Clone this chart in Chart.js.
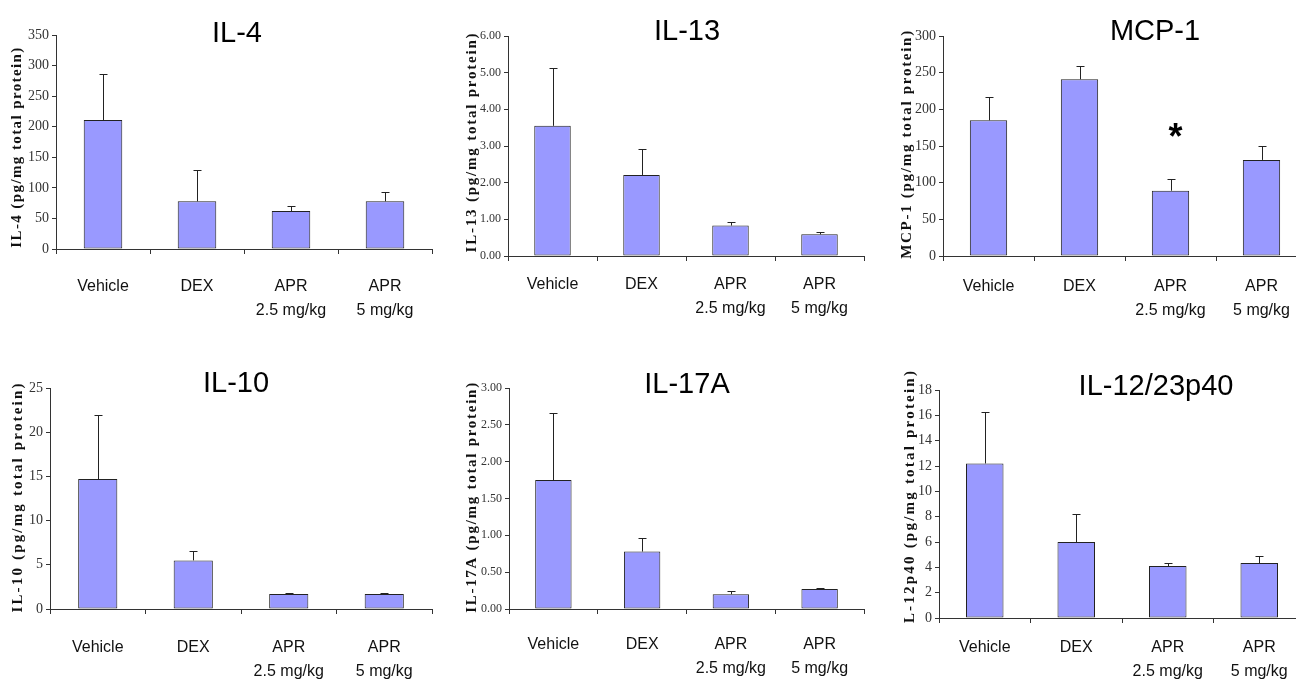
<!DOCTYPE html>
<html>
<head>
<meta charset="utf-8">
<title>Cytokines</title>
<script src="https://cdn.jsdelivr.net/npm/chart.js@4.4.1/dist/chart.umd.min.js"></script>
<style>
  html, body { margin: 0; padding: 0; background: #fff; overflow: hidden; }
  body { width: 1296px; height: 681px; position: relative; }
  canvas { position: absolute; }
</style>
</head>
<body>
<script>
// groups on the x axis
const categories = ['Vehicle', 'DEX', ['APR', '2.5 mg/kg'], ['APR', '5 mg/kg']];

// IL-4
const il4Mean = [211, 78, 62, 78];
const il4Upper = [287, 130, 70, 94];
const il4Ticks = [0, 50, 100, 150, 200, 250, 300, 350];

// IL-13
const il13Mean = [3.55, 2.21, 0.83, 0.59];
const il13Upper = [5.12, 2.91, 0.94, 0.65];
const il13Ticks = [0, 1, 2, 3, 4, 5, 6];

// MCP-1
const mcp1Mean = [185, 241, 89, 131];
const mcp1Upper = [217, 259, 105, 150];
const mcp1Ticks = [0, 50, 100, 150, 200, 250, 300];
const mcp1Sig = ['', '', '*', ''];

// IL-10
const il10Mean = [14.7, 5.5, 1.7, 1.7];
const il10Upper = [22.0, 6.6, 1.8, 1.8];
const il10Ticks = [0, 5, 10, 15, 20, 25];

// IL-17A
const il17Mean = [1.75, 0.78, 0.20, 0.27];
const il17Upper = [2.66, 0.96, 0.25, 0.29];
const il17Ticks = [0, 0.5, 1, 1.5, 2, 2.5, 3];

// IL-12/23p40
const il12Mean = [12.2, 6.0, 4.1, 4.34];
const il12Upper = [16.3, 8.2, 4.37, 4.9];
const il12Ticks = [0, 2, 4, 6, 8, 10, 12, 14, 16, 18];

const noSig = ['', '', '', ''];

// page layout of each panel: area = chart area [left, top, right, bottom]
const panels = [
    { title: 'IL-4', yTitle: 'IL-4 (pg/mg total protein)', mean: il4Mean, upper: il4Upper, ticks: il4Ticks, decimals: 0, sig: noSig,
      area: [56, 35, 432, 249], titlePos: [237, 42], yTitlePos: [17, 147, 200], labelPad: 21 },
    { title: 'IL-13', yTitle: 'IL-13 (pg/mg total protein)', mean: il13Mean, upper: il13Upper, ticks: il13Ticks, decimals: 2, sig: noSig,
      area: [508, 36, 864, 256], titlePos: [687, 40], yTitlePos: [472, 142, 219], labelPad: 12 },
    { title: 'MCP-1', yTitle: 'MCP-1 (pg/mg total protein)', mean: mcp1Mean, upper: mcp1Upper, ticks: mcp1Ticks, decimals: 0, sig: mcp1Sig,
      area: [943, 36, 1307, 256], titlePos: [1155, 40], yTitlePos: [907, 144, 228], labelPad: 14 },
    { title: 'IL-10', yTitle: 'IL-10 (pg/mg total protein)', mean: il10Mean, upper: il10Upper, ticks: il10Ticks, decimals: 0, sig: noSig,
      area: [50, 388, 432, 609], titlePos: [236, 392], yTitlePos: [18, 497, 229], labelPad: 22 },
    { title: 'IL-17A', yTitle: 'IL-17A (pg/mg total protein)', mean: il17Mean, upper: il17Upper, ticks: il17Ticks, decimals: 2, sig: noSig,
      area: [509, 388, 864, 609], titlePos: [687, 393], yTitlePos: [472, 497, 230], labelPad: 19 },
    { title: 'IL-12/23p40', yTitle: 'L-12p40 (pg/mg total protein)', mean: il12Mean, upper: il12Upper, ticks: il12Ticks, decimals: 0, sig: noSig,
      area: [939, 390, 1305, 618], titlePos: [1156, 395], yTitlePos: [910, 496, 252], labelPad: 13 }
];

const padTop = 30, axisW = 60, axisH = 80, padRight = 4;

// upper error bars + significance mark
const errorBars = {
    id: 'errorBars',
    afterDatasetsDraw(chart, args, opts) {
        const { ctx } = chart;
        const y = chart.scales.y;
        const meta = chart.getDatasetMeta(0);
        ctx.save();
        ctx.strokeStyle = '#222';
        ctx.lineWidth = 1;
        meta.data.forEach((bar, i) => {
            const top = Math.round(y.getPixelForValue(opts.upper[i])) + 0.5;
            const x = Math.round(bar.x) + 0.5;
            ctx.beginPath();
            ctx.moveTo(x, bar.y);
            ctx.lineTo(x, top);
            ctx.moveTo(x - 4, top);
            ctx.lineTo(x + 4, top);
            ctx.stroke();
            if (opts.sig[i]) {
                ctx.fillStyle = '#000';
                ctx.font = 'bold 36px "Liberation Sans", Arial, sans-serif';
                ctx.textAlign = 'center';
                ctx.textBaseline = 'alphabetic';
                ctx.fillText(opts.sig[i], bar.x + 5, top - 31);
            }
        });
        ctx.restore();
    }
};

// panel title and spaced-out y title
const panelText = {
    id: 'panelText',
    afterDraw(chart, args, o) {
        const { ctx } = chart;
        ctx.save();
        ctx.fillStyle = '#000';
        ctx.font = '29px "Liberation Sans", Arial, sans-serif';
        ctx.textAlign = 'center';
        ctx.textBaseline = 'alphabetic';
        ctx.fillText(o.title, o.titlePos[0] - o.offX, o.titlePos[1] - o.offY);

        const [tx, ty, len] = o.yTitlePos;
        ctx.translate(tx - o.offX, ty - o.offY);
        ctx.rotate(-Math.PI / 2);
        ctx.font = 'bold 15px "Liberation Serif", "Times New Roman", serif';
        ctx.fillStyle = '#111';
        ctx.textBaseline = 'middle';
        const w0 = ctx.measureText(o.yTitle).width;
        ctx.letterSpacing = Math.max(0, (len - w0) / (o.yTitle.length - 1)) + 'px';
        const w1 = ctx.measureText(o.yTitle).width;
        ctx.textAlign = 'left';
        ctx.fillText(o.yTitle, -w1 / 2, 0);
        ctx.restore();
    }
};

panels.forEach(p => {
    const [l, t, r, b] = p.area;
    const cv = document.createElement('canvas');
    const left = l - axisW, top = t - padTop;
    cv.width = r - l + axisW + padRight;
    cv.height = b - t + padTop + axisH;
    cv.style.left = left + 'px';
    cv.style.top = top + 'px';
    document.body.appendChild(cv);

    new Chart(cv, {
        type: 'bar',
        data: {
            labels: categories,
            datasets: [{
                data: p.mean,
                backgroundColor: '#9999ff',
                borderColor: '#222',
                borderWidth: 1,
                borderSkipped: false,
                barPercentage: 0.41,
                categoryPercentage: 1
            }]
        },
        options: {
            responsive: false,
            animation: false,
            devicePixelRatio: 1,
            layout: { padding: { top: padTop, right: padRight, left: 0, bottom: 0 } },
            plugins: {
                legend: { display: false },
                tooltip: { enabled: false },
                errorBars: { upper: p.upper, sig: p.sig },
                panelText: { title: p.title, titlePos: p.titlePos, yTitle: p.yTitle, yTitlePos: p.yTitlePos, offX: left, offY: top }
            },
            scales: {
                x: {
                    grid: { display: true, drawOnChartArea: false, drawTicks: true, tickLength: 5, color: '#333', offset: true },
                    border: { color: '#333', width: 1 },
                    ticks: {
                        color: '#111',
                        padding: p.labelPad,
                        maxRotation: 0,
                        autoSkip: false,
                        font: { family: '"Liberation Sans", Arial, sans-serif', size: 16, lineHeight: 1.5 }
                    },
                    afterFit: s => { s.height = axisH; }
                },
                y: {
                    min: p.ticks[0],
                    max: p.ticks[p.ticks.length - 1],
                    afterBuildTicks: s => { s.ticks = p.ticks.map(v => ({ value: v })); },
                    grid: { display: true, drawOnChartArea: false, drawTicks: true, tickLength: 4, color: '#333' },
                    border: { color: '#333', width: 1 },
                    ticks: {
                        color: '#333',
                        padding: 3,
                        font: { family: '"Liberation Serif", "Times New Roman", serif', size: p.decimals ? 12 : 14 },
                        callback: v => Number(v).toFixed(p.decimals)
                    },
                    afterFit: s => { s.width = axisW; }
                }
            }
        },
        plugins: [errorBars, panelText]
    });
});
</script>
</body>
</html>
